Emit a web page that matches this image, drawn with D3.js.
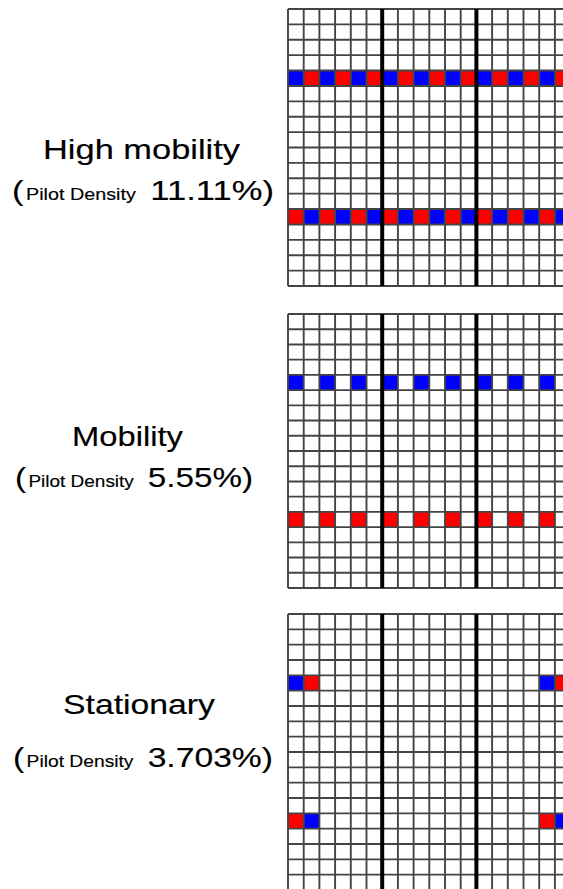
<!DOCTYPE html>
<html>
<head>
<meta charset="utf-8">
<script src="https://cdn.jsdelivr.net/npm/d3@7"></script>
<style>
  body { margin: 0; background: #fff; }
  svg { display: block; }
</style>
</head>
<body>
<svg width="563" height="889"></svg>
<script>
// scenario labels and pilot densities
const scenarios = ["High mobility", "Mobility", "Stationary"]
const densities = ["11.11%", "5.55%", "3.703%"]

// grid size (cells) and the rows that carry pilots
const nRows = 18
const nCols = 18
const pilotRows = [4, 13]
// thick separators every 6 columns
const thickCols = [6, 12, 18]

// pilot pattern per row, B = blue, R = red, . = empty
const highMobility = ["BRBRBRBRBRBRBRBRBR", "RBRBRBRBRBRBRBRBRB"]
const mobility = ["B.B.B.B.B.B.B.B.B.", "R.R.R.R.R.R.R.R.R."]
const stationary = ["BR..............BR", "RB..............RB"]
const patterns = [highMobility, mobility, stationary]

const svg = d3.select("svg")
const width = +svg.attr("width")
const height = +svg.attr("height")

const colors = { B: "#0000ff", R: "#ff0000" }

// layout of each panel (pixel positions)
const panels = [
  { top: 9, bottom: 286, title: { x: 43, w: 197, y: 159 }, sub: { x: 12, w: 262, y: 200 } },
  { top: 314, bottom: 588, title: { x: 72, w: 111, y: 446 }, sub: { x: 15, w: 238, y: 487 } },
  { top: 614, bottom: 890, title: { x: 63, w: 152, y: 714 }, sub: { x: 13, w: 260, y: 767 } }
]

const xScale = d3.scaleLinear()
  .domain([0, nCols])
  .range([288, 288 + nCols * 15.7])

const font = "'Liberation Sans', Arial, sans-serif"

panels.forEach((p, i) => {
  const yScale = d3.scaleLinear()
    .domain([0, nRows])
    .range([p.top, p.bottom])

  const g = svg.append("g")

  // pilot cells
  const cells = []
  patterns[i].forEach((rowStr, k) => {
    rowStr.split("").forEach((c, col) => {
      if (c !== ".") cells.push({ row: pilotRows[k], col: col, c: c })
    })
  })
  g.selectAll("rect.cell").data(cells)
    .enter().append("rect")
    .attr("class", "cell")
    .attr("x", d => xScale(d.col))
    .attr("y", d => yScale(d.row))
    .attr("width", xScale(1) - xScale(0))
    .attr("height", yScale(1) - yScale(0))
    .attr("fill", d => colors[d.c])

  // thin grid lines
  g.selectAll("line.h").data(d3.range(nRows + 1))
    .enter().append("line")
    .attr("x1", xScale(0)).attr("x2", xScale(nCols))
    .attr("y1", d => yScale(d)).attr("y2", d => yScale(d))
    .attr("stroke", "#444")
    .attr("stroke-width", 1.9)
  g.selectAll("line.v").data(d3.range(nCols + 1))
    .enter().append("line")
    .attr("y1", yScale(0)).attr("y2", yScale(nRows))
    .attr("x1", d => xScale(d)).attr("x2", d => xScale(d))
    .attr("stroke", "#444")
    .attr("stroke-width", 1.9)

  // thick separators
  g.selectAll("line.t").data(thickCols)
    .enter().append("line")
    .attr("y1", yScale(0)).attr("y2", yScale(nRows))
    .attr("x1", d => xScale(d)).attr("x2", d => xScale(d))
    .attr("stroke", "#000")
    .attr("stroke-width", 4)

  // labels
  svg.append("text")
    .attr("x", p.title.x)
    .attr("y", p.title.y)
    .attr("textLength", p.title.w)
    .attr("lengthAdjust", "spacingAndGlyphs")
    .style("font-family", font)
    .style("font-size", "28px")
    .attr("fill", "#000")
    .attr("stroke", "#000")
    .attr("stroke-width", 0.15)
    .text(scenarios[i])

  const sub = svg.append("text")
    .attr("x", p.sub.x)
    .attr("y", p.sub.y)
    .attr("textLength", p.sub.w)
    .attr("lengthAdjust", "spacingAndGlyphs")
    .style("font-family", font)
    .attr("fill", "#000")
    .attr("stroke", "#000")
    .attr("stroke-width", 0.15)
  sub.append("tspan").style("font-size", "28px").text("(")
  sub.append("tspan").style("font-size", "16px").attr("dx", 2).text("Pilot Density")
  sub.append("tspan").style("font-size", "28px").attr("dx", 4).text(" " + densities[i] + ")")
})
</script>
</body>
</html>
